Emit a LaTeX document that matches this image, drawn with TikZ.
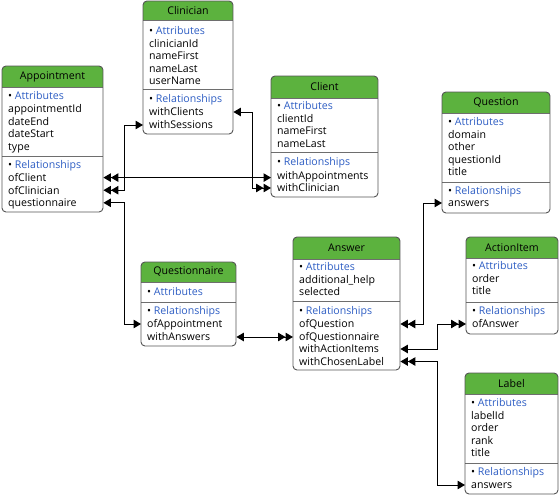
\documentclass[tikz,border=0pt]{standalone}
\usepackage{fontspec}
\setmainfont{Open Sans}
\usetikzlibrary{arrows.meta,calc}
\definecolor{hdrgreen}{RGB}{92,178,62}
\definecolor{attrblue}{RGB}{46,94,196}
\definecolor{boxline}{RGB}{85,85,85}
\definecolor{sepline}{RGB}{110,110,110}
\tikzset{
  x=1pt, y=-1pt,
  every node/.style={font=\fontsize{10.6}{12}\selectfont, inner sep=0pt},
  row/.style={anchor=west, text height=8.5pt, text depth=0.8pt},
  conn/.style={draw=black, line width=1pt},
  Tri/.tip={Triangle[length=7.5pt,width=8.5pt,sep=0pt]},
}
\newcommand\umlentity[8]{%
  \node[minimum width=#4pt, minimum height=#5pt, anchor=north west] (#1) at (#2,#3) {};
  \begin{scope}
    \clip[rounded corners=4pt] (#2,#3) rectangle ++(#4,#5);
    \fill[white] (#2,#3) rectangle ++(#4,#5);
    \fill[hdrgreen] (#2,#3) rectangle (#2+#4,#6);
  \end{scope}
  \draw[sepline, line width=0.8pt] (#2,#6) -- ++(#4,0);
  \draw[sepline, line width=0.8pt] (#2,#7) -- ++(#4,0);
  \draw[boxline, rounded corners=4pt, line width=0.9pt] (#2,#3) rectangle ++(#4,#5);
  \node (#1-title) at (#2+#4/2, {(#3+#6)/2}) {#8};
}
\newcommand\attrhead{\textbullet\ \textcolor{attrblue}{Attributes}}
\newcommand\relhead{\textbullet\ \textcolor{attrblue}{Relationships}}
\begin{document}
\begin{tikzpicture}
\fill[white] (0,0) rectangle (560,495);
\useasboundingbox (0,0) rectangle (560,495);

% Appointment
\umlentity{app}{2}{66}{101}{146}{87}{156}{Appointment}
\node[row] (app-attr) at (8,96) {\attrhead};
\node[row] (app-appointmentId) at (8,108.6) {appointmentId};
\node[row] (app-dateEnd) at (8,121.2) {dateEnd};
\node[row] (app-dateStart) at (8,133.8) {dateStart};
\node[row] (app-type) at (8,146.4) {type};
\node[row] (app-rel) at (8,165) {\relhead};
\node[row] (app-ofClient) at (8,177.6) {ofClient};
\node[row] (app-ofClinician) at (8,190.2) {ofClinician};
\node[row] (app-questionnaire) at (8,202.8) {questionnaire};

% Clinician
\umlentity{clin}{143}{1}{90}{133}{20}{89}{Clinician}
\node[row] (clin-attr) at (149,31) {\attrhead};
\node[row] (clin-clinicianId) at (149,43.5) {clinicianId};
\node[row] (clin-nameFirst) at (149,56) {nameFirst};
\node[row] (clin-nameLast) at (149,68.5) {nameLast};
\node[row] (clin-userName) at (149,81) {userName};
\node[row] (clin-rel) at (149,99) {\relhead};
\node[row] (clin-withClients) at (149,112) {withClients};
\node[row] (clin-withSessions) at (149,125) {withSessions};

% Client
\umlentity{client}{271}{76}{107}{121}{98}{152}{Client}
\node[row] (client-attr) at (277,106) {\attrhead};
\node[row] (client-clientId) at (277,118.5) {clientId};
\node[row] (client-nameFirst) at (277,131) {nameFirst};
\node[row] (client-nameLast) at (277,143.5) {nameLast};
\node[row] (client-rel) at (277,162) {\relhead};
\node[row] (client-withAppointments) at (277,175.5) {withAppointments};
\node[row] (client-withClinician) at (277,188) {withClinician};

% Question
\umlentity{q}{442}{92}{108}{121}{113}{182}{Question}
\node[row] (q-attr) at (448,122) {\attrhead};
\node[row] (q-domain) at (448,134.5) {domain};
\node[row] (q-other) at (448,147) {other};
\node[row] (q-questionId) at (448,159.5) {questionId};
\node[row] (q-title) at (448,172) {title};
\node[row] (q-rel) at (448,191) {\relhead};
\node[row] (q-answers) at (448,203) {answers};

% Questionnaire
\umlentity{qn}{141}{262}{95}{84}{282}{302}{Questionnaire}
\node[row] (qn-attr) at (147,292) {\attrhead};
\node[row] (qn-rel) at (147,311) {\relhead};
\node[row] (qn-ofAppointment) at (147,324) {ofAppointment};
\node[row] (qn-withAnswers) at (147,337) {withAnswers};

% Answer
\umlentity{ans}{293}{237}{107}{133}{259}{301}{Answer}
\node[row] (ans-attr) at (299,267) {\attrhead};
\node[row] (ans-additional) at (299,279.5) {additional\_help};
\node[row] (ans-selected) at (299,292) {selected};
\node[row] (ans-rel) at (299,311) {\relhead};
\node[row] (ans-ofQuestion) at (299,324) {ofQuestion};
\node[row] (ans-ofQuestionnaire) at (299,336.5) {ofQuestionnaire};
\node[row] (ans-withActionItems) at (299,349) {withActionItems};
\node[row] (ans-withChosenLabel) at (299,361.5) {withChosenLabel};

% ActionItem
\umlentity{ai}{466}{237}{92}{97}{258}{302}{ActionItem}
\node[row] (ai-attr) at (472,266) {\attrhead};
\node[row] (ai-order) at (472,278.5) {order};
\node[row] (ai-title) at (472,291) {title};
\node[row] (ai-rel) at (472,311) {\relhead};
\node[row] (ai-ofAnswer) at (472,324) {ofAnswer};

% Label
\umlentity{lab}{465}{373}{93}{121}{394}{463}{Label}
\node[row] (lab-attr) at (471,403) {\attrhead};
\node[row] (lab-labelId) at (471,415.5) {labelId};
\node[row] (lab-order) at (471,428) {order};
\node[row] (lab-rank) at (471,440.5) {rank};
\node[row] (lab-title) at (471,453) {title};
\node[row] (lab-rel) at (471,472) {\relhead};
\node[row] (lab-answers) at (471,485) {answers};

% Connectors
\draw[conn, {Tri[]Tri[]}-{Tri[]}] (app.east |- app-ofClient) -- (client.west |- app-ofClient);
\draw[conn, {Tri[]Tri[]}-{Tri[]}] (app.east |- app-ofClinician) -- ++(21,0) |- (clin.west |- clin-withSessions);
\draw[conn, {Tri[]}-{Tri[]Tri[]}] (clin.east |- clin-withClients) -- ++(19,0) |- (client.west |- client-withClinician);
\draw[conn, {Tri[]}-{Tri[]}] (app.east |- app-questionnaire) -- ++(21,0) |- (qn.west |- qn-ofAppointment);
\draw[conn, {Tri[]}-{Tri[]Tri[]}] (qn.east |- qn-withAnswers) -- (ans.west |- qn-withAnswers);
\draw[conn, {Tri[]}-{Tri[]Tri[]}] (q.west |- q-answers) -- ++(-19,0) |- (ans.east |- ans-ofQuestion);
\draw[conn, {Tri[]Tri[]}-{Tri[]}] (ai.west |- ai-ofAnswer) -- ++(-29,0) |- (ans.east |- ans-withActionItems);
\draw[conn, {Tri[]}-{Tri[]Tri[]}] (lab.west |- lab-answers) -- ++(-28,0) |- (ans.east |- ans-withChosenLabel);
\end{tikzpicture}
\end{document}
